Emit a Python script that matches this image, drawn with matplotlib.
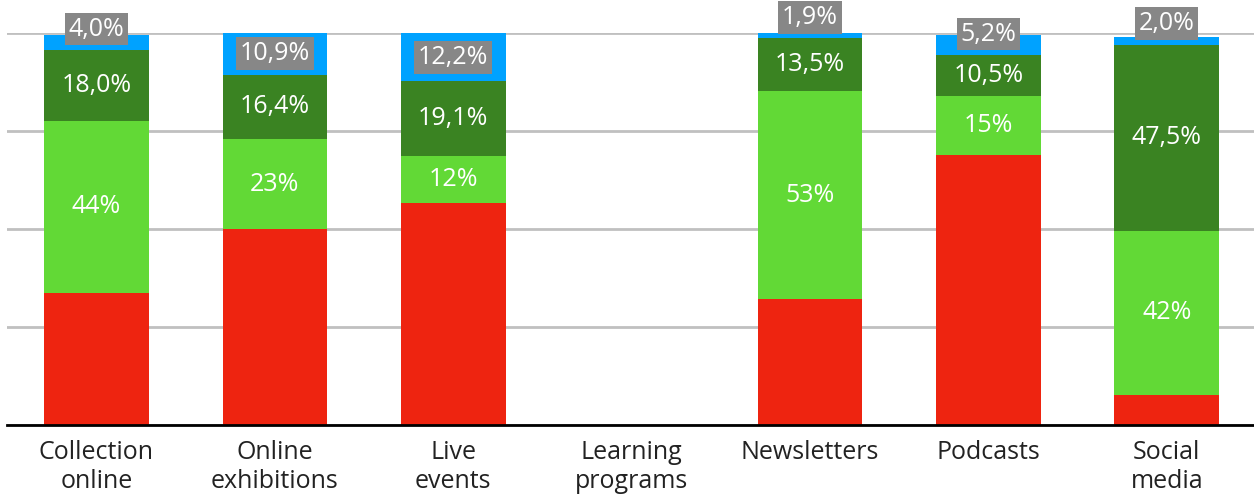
import numpy as np
import matplotlib.pyplot as plt

plt.rcParams['font.family'] = ['Open Sans', 'DejaVu Sans']

categories = ['Collection\nonline', 'Online\nexhibitions', 'Live\nevents', 'Learning\nprograms',
              'Newsletters', 'Podcasts', 'Social\nmedia']
rood = [33.6, 49.9, 56.6, 0, 32.1, 68.8, 7.5]
lichtgroen = [44, 23, 12, 0, 53, 15, 42]
donkergroen = [18.0, 16.4, 19.1, 0, 13.5, 10.5, 47.5]
blauw = [4.0, 10.9, 12.2, 0, 1.9, 5.2, 2.0]
labels_lichtgroen = ['44%', '23%', '12%', '', '53%', '15%', '42%']
labels_donkergroen = ['18,0%', '16,4%', '19,1%', '', '13,5%', '10,5%', '47,5%']
labels_blauw = ['4,0%', '10,9%', '12,2%', '', '1,9%', '5,2%', '2,0%']

kleuren = ['#ee2410', '#62d936', '#3a8322', '#00a2ff']

fig = plt.figure(figsize=(12.54, 4.96), dpi=100)
ax = fig.add_axes([7.3 / 1254, 1 - 424.5 / 496, 1248.7 / 1254, 391.5 / 496])

x = np.arange(len(categories))
breedte = 0.587
onder = np.zeros(len(categories))
reeksen = [rood, lichtgroen, donkergroen, blauw]
for waarden, kleur in zip(reeksen, kleuren):
    ax.bar(x, waarden, breedte, bottom=onder, color=kleur, zorder=2)
    onder = onder + np.array(waarden)

# labels in de groene segmenten
bodem_lg = np.array(rood)
bodem_dg = bodem_lg + np.array(lichtgroen)
bodem_bl = bodem_dg + np.array(donkergroen)
for i in range(len(categories)):
    if labels_lichtgroen[i]:
        ax.text(x[i], bodem_lg[i] + lichtgroen[i] / 2, labels_lichtgroen[i], ha='center', va='center',
                color='white', fontsize=18, zorder=3)
    if labels_donkergroen[i]:
        ax.text(x[i], bodem_dg[i] + donkergroen[i] / 2, labels_donkergroen[i], ha='center', va='center',
                color='white', fontsize=18, zorder=3)
    if labels_blauw[i]:
        y = max(bodem_bl[i] + blauw[i] / 2, bodem_bl[i] + 5.4)
        ax.text(x[i], y, labels_blauw[i], ha='center', va='center', color='white', fontsize=18,
                zorder=4, clip_on=False,
                bbox=dict(boxstyle='square,pad=0.15', facecolor='#878787', edgecolor='none'))

ax.set_xlim(-0.5, 6.5)
ax.set_ylim(0, 100)
ax.set_yticks([0, 25, 50, 75, 100])
ax.yaxis.grid(True, color='#c0c0c0', linewidth=2, zorder=0)
ax.set_axisbelow(True)
ax.tick_params(axis='y', left=False, labelleft=False)
ax.tick_params(axis='x', bottom=False, pad=8)
ax.set_xticks(x)
ax.set_xticklabels(categories, fontsize=18, color='#222222', linespacing=1.19)
for kant in ['top', 'left', 'right']:
    ax.spines[kant].set_visible(False)
ax.spines['bottom'].set_color('black')
ax.spines['bottom'].set_linewidth(2)
ax.spines['bottom'].set_zorder(5)

fig.savefig('out.png', dpi=100)
